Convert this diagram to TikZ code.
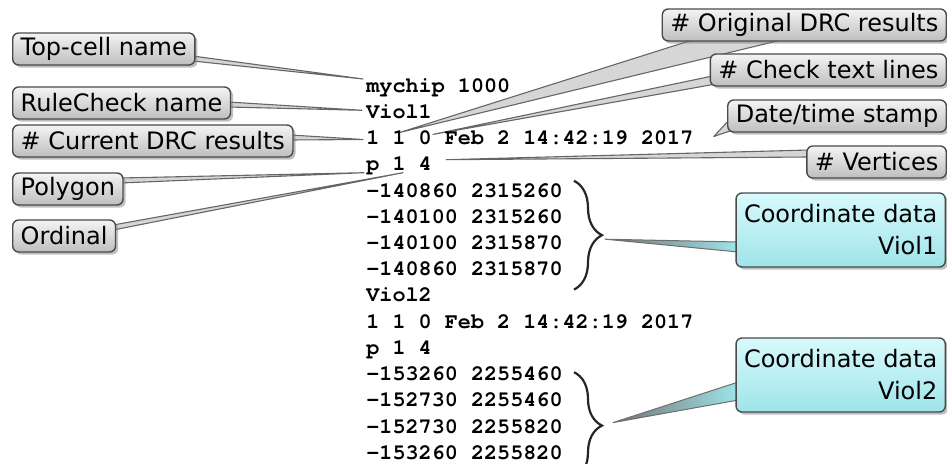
\documentclass[tikz,border=0pt]{standalone}
\usepackage{fontspec}
\setmainfont{DejaVu Sans}
\newfontfamily\codefont{texgyrecursor}[Extension=.otf, UprightFont=*-bold, BoldFont=*-bold]
\usetikzlibrary{positioning,calc,shadows,backgrounds,decorations.pathreplacing}

\definecolor{tagtop}{HTML}{F4F4F4}
\definecolor{tagbottom}{HTML}{BEBEBE}
\definecolor{tagedge}{HTML}{4A4A4A}
\definecolor{tagtail}{HTML}{D6D6D6}
\definecolor{datatop}{HTML}{D8FAFC}
\definecolor{databottom}{HTML}{9EE4EA}

\begin{document}
\begin{tikzpicture}[
  x=0.5pt, y=-0.5pt,
  font=\fontsize{12}{16}\selectfont,
  codeline/.style={font=\codefont\fontsize{10.9}{13}\selectfont, inner sep=0pt, text height=9pt, text depth=3.7pt, anchor=north west},
  lbl/.style={draw=tagedge, line width=0.7pt, rounded corners=3pt, top color=tagtop, bottom color=tagbottom, drop shadow={shadow xshift=1.3pt, shadow yshift=-1.3pt, opacity=0.5}, inner xsep=4pt, inner ysep=0pt, minimum height=16pt},
  datalbl/.style={lbl, top color=datatop, bottom color=databottom, align=right, minimum height=37pt},
  lbltail/.style={fill=tagtail, draw=black!60, line width=0.55pt, line join=round},
  datatail/.style={left color=black!55, right color=databottom, draw=tagedge!80, line width=0.5pt, line join=round},
  curly/.style={decorate, decoration={brace, amplitude=14pt}, line width=1.1pt, draw=black!85}
]
\useasboundingbox (0,0) rectangle (947,464);
\clip (0,0) rectangle (947,464);

\node[codeline] (l1) at (366,74) {mychip 1000};
\node[below=0pt of l1.south west, codeline] (l2) {Viol1};
\node[below=0pt of l2.south west, codeline] (l3) {1 1 0 Feb 2 14:42:19 2017};
\node[below=0pt of l3.south west, codeline] (l4) {p 1 4};
\node[below=0pt of l4.south west, codeline] (l5) {-140860 2315260};
\node[below=0pt of l5.south west, codeline] (l6) {-140100 2315260};
\node[below=0pt of l6.south west, codeline] (l7) {-140100 2315870};
\node[below=0pt of l7.south west, codeline] (l8) {-140860 2315870};
\node[below=0pt of l8.south west, codeline] (l9) {Viol2};
\node[below=0pt of l9.south west, codeline] (l10) {1 1 0 Feb 2 14:42:19 2017};
\node[below=0pt of l10.south west, codeline] (l11) {p 1 4};
\node[below=0pt of l11.south west, codeline] (l12) {-153260 2255460};
\node[below=0pt of l12.south west, codeline] (l13) {-152730 2255460};
\node[below=0pt of l13.south west, codeline] (l14) {-152730 2255820};
\node[below=0pt of l14.south west, codeline] (l15) {-153260 2255820};

\draw[curly] ($(l5.north east)+(11,2)$) -- ($(l8.south east)+(11,6)$);
\draw[curly] ($(l12.north east)+(11,10)$) -- ($(l15.south east)+(11,12)$);

\node[lbl, anchor=west] (topcell) at (12,49) {Top-cell name};
\node[lbl, anchor=west] (rulename) at (12,103) {RuleCheck name};
\node[lbl, anchor=west] (curcount) at (12,141) {\# Current DRC results};
\node[lbl, anchor=west] (polygon) at (12,189) {Polygon};
\node[lbl, anchor=west] (ordinal) at (12,236) {Ordinal};

\node[lbl, anchor=east] (origcount) at (947,25) {\# Original DRC results};
\node[lbl, anchor=east] (textlines) at (947,70) {\# Check text lines};
\node[lbl, anchor=east] (stamp) at (947,116) {Date/time stamp};
\node[lbl, anchor=east] (vertices) at (947,162) {\# Vertices};
\node[datalbl, anchor=east] (coord1) at (946,230) {Coordinate data\\Viol1};
\node[datalbl, anchor=east] (coord2) at (946,375) {Coordinate data\\Viol2};

\coordinate (tTop) at ($(l1.north west)+(-3,5)$);
\coordinate (tRule) at ($(l2.west)+(-4,-3)$);
\coordinate (tCur) at ($(l3.west)+(-3,0)$);
\coordinate (tPoly) at ($(l4.west)+(-2,7)$);
\coordinate (tOrd) at ($(l4.west)+(37,7)$);
\coordinate (tOrig) at ($(l3.north west)+(34,6)$);
\coordinate (tLines) at ($(l3.north west)+(67,8)$);
\coordinate (tStamp) at ($(l3.east)+(20,-3)$);
\coordinate (tVert) at ($(l4.east)+(14,-6)$);
\coordinate (tBrace1) at ($(l5.north east)!.5!(l8.south east)+(42,8)$);
\coordinate (tBrace2) at ($(l12.north east)!.5!(l15.south east)+(50,8)$);

\begin{scope}[on background layer]
\filldraw[lbltail] ($(topcell.east)+(-3,7)$) -- (tTop) -- ($(topcell.east)+(-3,12)$) -- cycle;
\filldraw[lbltail] ($(rulename.east)+(-3,-1)$) -- (tRule) -- ($(rulename.east)+(-3,4)$) -- cycle;
\filldraw[lbltail] ($(curcount.east)+(-3,-6)$) -- (tCur) -- ($(curcount.east)+(-3,-1)$) -- cycle;
\filldraw[lbltail] ($(polygon.east)+(-3,-11)$) -- (tPoly) -- ($(polygon.east)+(-3,-6)$) -- cycle;
\filldraw[lbltail] ($(ordinal.east)+(-3,-11)$) -- (tOrd) -- ($(ordinal.east)+(-3,-6)$) -- cycle;
\filldraw[lbltail] ($(origcount.south west)+(35,-3)$) -- (tOrig) -- ($(origcount.south west)+(125,-3)$) -- cycle;
\filldraw[lbltail] ($(textlines.west)+(3,6)$) -- (tLines) -- ($(textlines.south west)+(8,-3)$) -- cycle;
\filldraw[lbltail] ($(stamp.west)+(3,3)$) -- (tStamp) -- ($(stamp.west)+(3,15)$) -- cycle;
\filldraw[lbltail] ($(vertices.west)+(3,-12)$) -- (tVert) -- ($(vertices.west)+(3,-5)$) -- cycle;
\shadedraw[datatail] ($(coord1.west)+(3,12)$) -- (tBrace1) -- ($(coord1.west)+(3,22)$) -- cycle;
\shadedraw[datatail] ($(coord2.west)+(3,7)$) -- (tBrace2) -- ($(coord2.west)+(3,25)$) -- cycle;
\end{scope}
\end{tikzpicture}
\end{document}
